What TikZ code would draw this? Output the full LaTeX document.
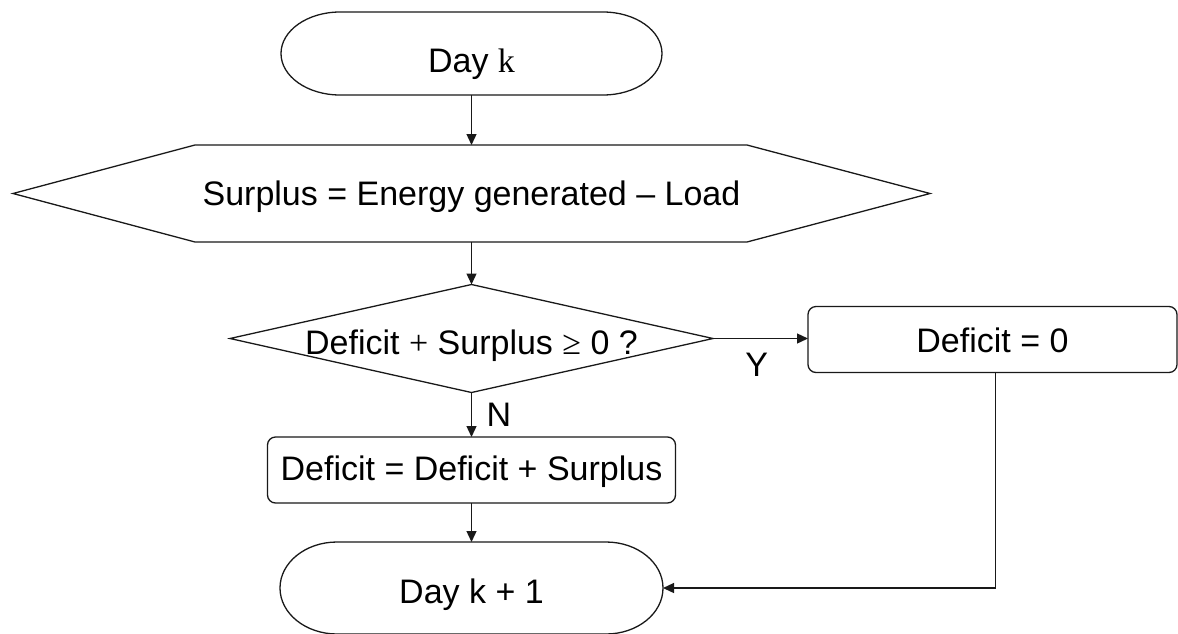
\documentclass[tikz,border=0pt]{standalone}
\usepackage{fontspec}
\setmainfont{Liberation Sans}
\newfontfamily\seriffont{Liberation Serif}
\usetikzlibrary{arrows.meta}

\begin{document}
\begin{tikzpicture}[x=0.5pt,y=-0.5pt,
  every node/.style={font=\fontsize{17}{20}\selectfont, inner sep=0pt, outer sep=0pt, text depth=0pt, text height=12.2pt},
  outline/.style={draw=black!90, line width=0.65pt},
  arrow/.style={draw=black!90, line width=0.65pt, -{Triangle[length=5.5pt,width=5pt]}},
  rbox/.style={draw=black!90, line width=0.65pt, rounded corners=4pt, rectangle, minimum height=33pt}
]
\useasboundingbox (0,0) rectangle (1178,633);

% nodes
\node[minimum width=190.5pt, minimum height=41.5pt, text height=18.7pt] (t1) at (471.5,53.5) {Day {\seriffont k}};
\node[minimum width=458.5pt, minimum height=48.5pt] (hex) at (471.5,193.5) {Surplus = Energy generated – Load};
\node[minimum width=241.5pt, minimum height=54pt, text height=16.2pt] (dec) at (471.5,338.5) {Deficit {\seriffont +} Surplus {\seriffont ≥} 0 ?};
\node[rbox, minimum width=184.5pt, text height=13.2pt] (b2) at (992.5,339.5) {Deficit = 0};
\node[rbox, minimum width=204pt, text height=10.4pt] (b1) at (471.5,470) {Deficit = Deficit + Surplus};
\node[minimum width=191.5pt, minimum height=46pt, text height=15.7pt] (t2) at (471.5,588) {Day k + 1};

% outlines
\draw[outline] ([xshift=29.5pt]t1.north west) -- ([xshift=-29.5pt]t1.north east)
  arc[start angle=90, end angle=-90, x radius=29.5pt, y radius=20.75pt]
  -- ([xshift=29.5pt]t1.south west)
  arc[start angle=270, end angle=90, x radius=29.5pt, y radius=20.75pt] -- cycle;
\draw[outline] (hex.west) -- ([xshift=91pt]hex.north west) -- ([xshift=-91.5pt]hex.north east)
  -- (hex.east) -- ([xshift=-91.5pt]hex.south east) -- ([xshift=91pt]hex.south west) -- cycle;
\draw[outline] (dec.north) -- (dec.east) -- (dec.south) -- (dec.west) -- cycle;
\draw[outline] ([xshift=28.5pt]t2.north west) -- ([xshift=-28.5pt]t2.north east)
  arc[start angle=90, end angle=-90, x radius=28.5pt, y radius=23pt]
  -- ([xshift=28.5pt]t2.south west)
  arc[start angle=270, end angle=90, x radius=28.5pt, y radius=23pt] -- cycle;

% connectors
\draw[arrow] (t1.south) -- (hex.north);
\draw[arrow] (hex.south) -- (dec.north);
\draw[arrow] (dec.east) -- (dec.east -| b2.west) node[pos=0.46, below=7pt] {Y};
\draw[arrow] (dec.south) -- (b1.north) node[pos=0.5, right=7.5pt] {N};
\draw[arrow] (b1.south) -- (t2.north);
\draw[arrow] ([xshift=1.5pt]b2.south) |- (t2.east);
\end{tikzpicture}
\end{document}
